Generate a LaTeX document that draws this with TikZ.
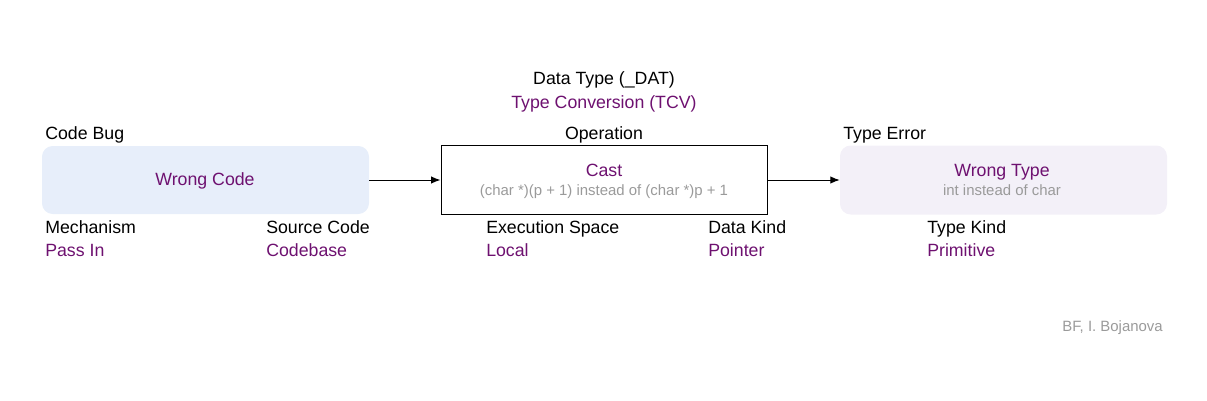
\documentclass[tikz,border=0pt]{standalone}
\usepackage{fontspec}
\setmainfont{Liberation Sans}
\usetikzlibrary{arrows.meta}
\definecolor{bfpurple}{HTML}{6E1170}
\definecolor{bfgray}{HTML}{9A9A9A}
\definecolor{bfblue}{HTML}{E7EEFA}
\definecolor{bflav}{HTML}{F3F0F8}

\begin{document}
\begin{tikzpicture}[x=0.75pt,y=0.75pt,yscale=-1,
  attr/.style={anchor=west,inner sep=0.75pt,yshift=-2.2pt,text height=0.72em,text depth=0.22em,font=\fontsize{13.3}{15}\selectfont},
  attrval/.style={attr,text=bfpurple},
  boxtext/.style={yshift=-2.2pt,text height=0.72em,text depth=0.22em,font=\fontsize{13.3}{15}\selectfont,text=bfpurple},
  note/.style={yshift=-1.8pt,text height=0.72em,text depth=0.22em,font=\fontsize{11.2}{13}\selectfont,text=bfgray},
  link/.style={-{Latex[length=7pt,width=5.5pt]},line width=0.75pt}]
\useasboundingbox (0,0) rectangle (1207,400);

% Boxes
\node (bug) [fill=bfblue,rounded corners=8pt,minimum width=245.25pt,minimum height=51pt,inner sep=0pt] at (205.5,180) {};
\node (op) [draw,line width=0.75pt,minimum width=244.5pt,minimum height=51.75pt,inner sep=0pt] at (604,180) {};
\node (err) [fill=bflav,rounded corners=8pt,minimum width=245.25pt,minimum height=51.75pt,inner sep=0pt] at (1003.5,180) {};

% Box texts
\node (bugname) [boxtext] at (205,179) {Wrong Code};
\node (opname) [boxtext] at (604,170) {Cast};
\node (opnote) [note] at (604,190) {(char *)(p + 1) instead of (char *)p + 1};
\node (errname) [boxtext] at (1002,170) {Wrong Type};
\node (errnote) [note] at (1002,190) {int instead of char};

% Titles
\node (bugtitle) [attr] at (44,133) {Code Bug};
\node (optitle) [attr,anchor=center] at (604,133) {Operation};
\node (errtitle) [attr] at (842,133) {Type Error};
\node (classtitle) [attr,anchor=center] at (604,78) {Data Type (\_DAT)};
\node (classname) [attrval,anchor=center] at (604,102) {Type Conversion (TCV)};

% Attributes
\node (mech) [attr] at (44,227) {Mechanism};
\node (mechval) [attrval] at (44,250) {Pass In};
\node (src) [attr] at (265,227) {Source Code};
\node (srcval) [attrval] at (265,250) {Codebase};
\node (exec) [attr] at (485,227) {Execution Space};
\node (execval) [attrval] at (485,250) {Local};
\node (kind) [attr] at (707,227) {Data Kind};
\node (kindval) [attrval] at (707,250) {Pointer};
\node (tkind) [attr] at (926,227) {Type Kind};
\node (tkindval) [attrval] at (926,250) {Primitive};

\node (credit) [note,anchor=east,inner sep=0.75pt] at (1164,326) {BF, I. Bojanova};

% Connectors
\draw [link] (bug.east) -- (op.west);
\draw [link] (op.east) -- (err.west);

\end{tikzpicture}
\end{document}
